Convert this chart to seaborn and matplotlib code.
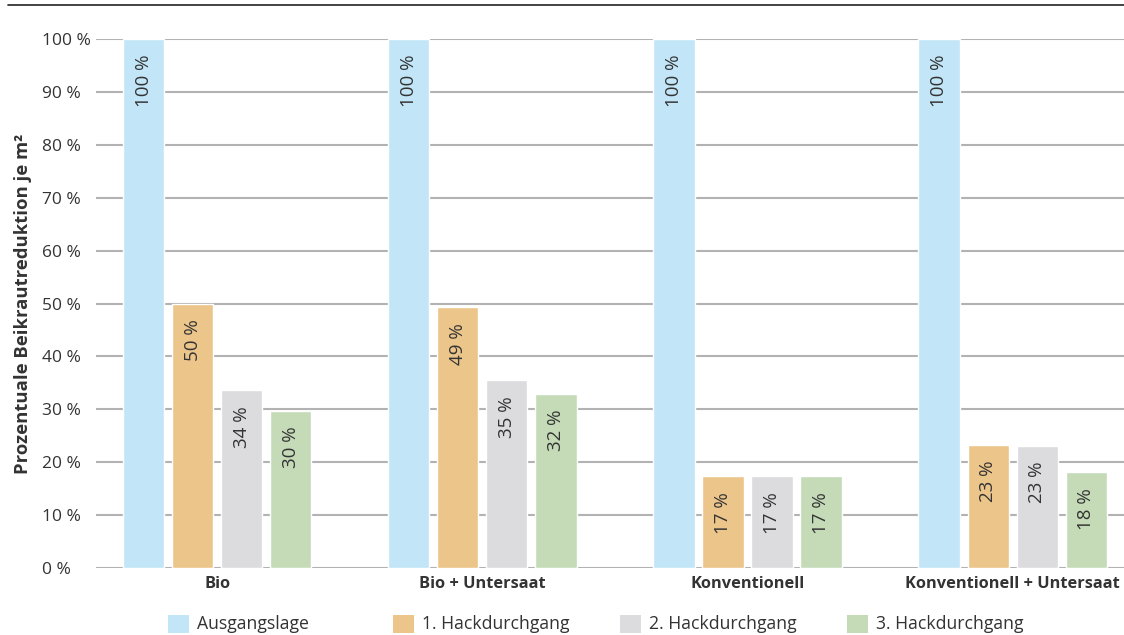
import matplotlib
matplotlib.use("Agg")
import matplotlib.pyplot as plt
import seaborn as sns
import pandas as pd
from matplotlib.lines import Line2D
from matplotlib.patches import Patch

categories = ["Bio", "Bio + Untersaat", "Konventionell", "Konventionell + Untersaat"]
series = ["Ausgangslage", "1. Hackdurchgang", "2. Hackdurchgang", "3. Hackdurchgang"]
ausgangslage = [100, 100, 100, 100]
hack1 = [50.0, 49.3, 17.4, 23.3]
hack2 = [33.6, 35.5, 17.4, 23.1]
hack3 = [29.7, 32.9, 17.4, 18.1]
labels_ausgang = ["100 %", "100 %", "100 %", "100 %"]
labels_hack1 = ["50 %", "49 %", "17 %", "23 %"]
labels_hack2 = ["34 %", "35 %", "17 %", "23 %"]
labels_hack3 = ["30 %", "32 %", "17 %", "18 %"]
yticks = [0, 10, 20, 30, 40, 50, 60, 70, 80, 90, 100]
ytick_labels = [f"{t} %" for t in yticks]
colors = ["#c2e6f8", "#ecc58b", "#dcdcde", "#c5dbb8"]

rows = []
for s, vals in zip(series, [ausgangslage, hack1, hack2, hack3]):
    for c, v in zip(categories, vals):
        rows.append({"Kategorie": c, "Serie": s, "Wert": v})
df = pd.DataFrame(rows)

sns.set_theme(style="white")
plt.rcParams["font.family"] = ["Open Sans", "DejaVu Sans"]
text_color = "#333333"

W, H = 1124, 635
fig = plt.figure(figsize=(W / 100, H / 100), dpi=100)
ax = fig.add_axes([96 / W, (H - 568) / H, 1 - 96 / W, (568 - 39) / H])

sns.barplot(data=df, x="Kategorie", y="Wert", hue="Serie", order=categories,
            hue_order=series, palette=colors, width=0.74, gap=0.16,
            saturation=1, legend=False, ax=ax, zorder=3)

ax.set_ylim(0, 100)
ax.set_xlim(-0.457, 3.42)
ax.set_yticks(yticks)
ax.set_yticklabels(ytick_labels, fontsize=12.5, color=text_color, ha="left")
ax.tick_params(axis="y", length=0, pad=39)
ax.tick_params(axis="x", length=0, pad=6)
ax.set_xticks(range(len(categories)))
ax.set_xticklabels(categories, fontsize=11.8, fontweight="bold", color=text_color)
ax.set_xlabel("")
ax.set_ylabel("Prozentuale Beikrautreduktion je m²", fontsize=13.3,
              fontweight="bold", color=text_color, labelpad=7)
ax.yaxis.grid(True, color="#b2b2b2", linewidth=1.5, zorder=0)
ax.set_axisbelow(True)
for sp in ax.spines.values():
    sp.set_visible(False)
ax.patch.set_alpha(0)

all_labels = [labels_ausgang, labels_hack1, labels_hack2, labels_hack3]
for cont, labs in zip(ax.containers, all_labels):
    for bar, lab in zip(cont.patches, labs):
        x = bar.get_x() + bar.get_width() / 2
        y = bar.get_height()
        ax.annotate(lab, (x, y), xytext=(0, -11.5), textcoords="offset points",
                    rotation=90, ha="center", va="top", fontsize=13.5,
                    color=text_color, zorder=5)

fig.add_artist(Line2D([8 / W, 1], [1 - 5 / H, 1 - 5 / H],
                      color="#222222", linewidth=1.2, transform=fig.transFigure))

legend_x = [168, 393, 620, 847]
for s, c, lx in zip(series, colors, legend_x):
    leg = fig.legend([Patch(facecolor=c, edgecolor="none")], [s], loc="center left",
                     bbox_to_anchor=(lx / W, 1 - 624 / H), frameon=False, fontsize=12.7,
                     handlelength=1.2, handleheight=1.2, handletextpad=0.45,
                     borderpad=0, borderaxespad=0, labelcolor=text_color)

fig.savefig("out.png", dpi=100)
